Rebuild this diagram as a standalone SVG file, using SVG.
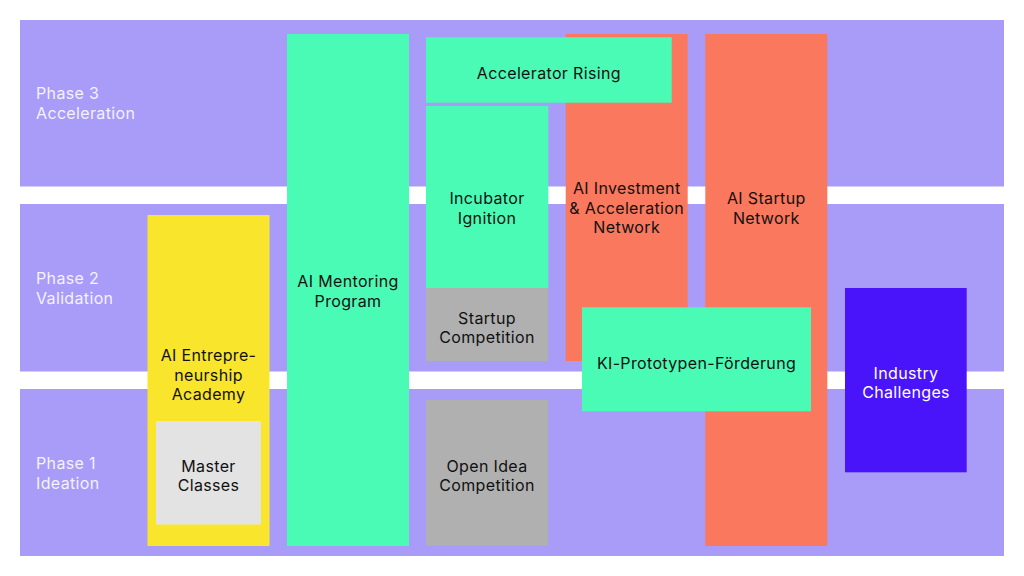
<svg xmlns="http://www.w3.org/2000/svg" width="1024" height="576" viewBox="0 0 1024 576">
<style>
.band{fill:#A99BF8}
.ph{font-family:Inter,"Noto Sans",sans-serif;font-size:16px;fill:#F4F2FF;letter-spacing:0.35px}
.t{font-family:Inter,"Noto Sans",sans-serif;font-size:16px;fill:#111;text-anchor:middle;letter-spacing:0.35px}
.w{fill:#FFFFFF}
.g{fill:#4AFBB6}.r{fill:#F9785E}.y{fill:#F9E52C}.gr{fill:#B0B0B0}.lg{fill:#E3E3E3}.b{fill:#4A14FB}
</style>
<rect width="1024" height="576" fill="#FFFFFF"/>
<g id="phases">
<g id="phase3"><rect class="band" x="20" y="20" width="984" height="166.5"/><text class="ph" x="36" y="99">Phase 3</text><text class="ph" x="36" y="118.5">Acceleration</text></g>
<g id="phase2"><rect class="band" x="20" y="204" width="984" height="167.5"/><text class="ph" x="36" y="284">Phase 2</text><text class="ph" x="36" y="303.5">Validation</text></g>
<g id="phase1"><rect class="band" x="20" y="389" width="984" height="167"/><text class="ph" x="36" y="469">Phase 1</text><text class="ph" x="36" y="488.5">Ideation</text></g>
</g>
<g id="academy"><rect class="y" x="147.5" y="215" width="122" height="331"/><text class="t" x="208.5" y="361.3">AI Entrepre-</text><text class="t" x="208.5" y="380.5">neurship</text><text class="t" x="208.5" y="399.7">Academy</text></g>
<g id="master"><rect class="lg" x="156" y="421" width="105" height="103.5"/><text class="t" x="208.5" y="471.7">Master</text><text class="t" x="208.5" y="491">Classes</text></g>
<g id="mentoring"><rect class="g" x="287" y="34" width="122" height="512"/><text class="t" x="348" y="287.3">AI Mentoring</text><text class="t" x="348" y="306.5">Program</text></g>
<g id="investment"><rect class="r" x="565.7" y="34" width="122" height="327"/><text class="t" x="626.7" y="194.3">AI Investment</text><text class="t" x="626.7" y="213.5">&amp; Acceleration</text><text class="t" x="626.7" y="232.7">Network</text></g>
<g id="startupnet"><rect class="r" x="705.3" y="34" width="122" height="512"/><text class="t" x="766.3" y="204.3">AI Startup</text><text class="t" x="766.3" y="223.5">Network</text></g>
<g id="accelerator"><rect class="g" x="426" y="37.3" width="245.7" height="65.4"/><text class="t" x="548.9" y="79.3">Accelerator Rising</text></g>
<g id="incubator"><rect class="g" x="426" y="106" width="122.3" height="182"/><text class="t" x="487" y="204.3">Incubator</text><text class="t" x="487" y="223.5">Ignition</text></g>
<g id="startupcomp"><rect class="gr" x="426" y="288" width="122.3" height="73"/><text class="t" x="487" y="323.5">Startup</text><text class="t" x="487" y="342.7">Competition</text></g>
<g id="openidea"><rect class="gr" x="426" y="399.7" width="122.3" height="146"/><text class="t" x="487" y="472">Open Idea</text><text class="t" x="487" y="491.2">Competition</text></g>
<g id="prototypen"><rect class="g" x="582" y="307.3" width="229" height="104"/><text class="t" x="696.5" y="369.3">KI-Prototypen-Förderung</text></g>
<g id="industry"><rect class="b" x="845" y="288" width="121.7" height="184.3"/><text class="t" x="906" y="379" style="fill:#FFFFFF">Industry</text><text class="t" x="906" y="398.3" style="fill:#FFFFFF">Challenges</text></g>
<g id="connectors"></g>
</svg>
